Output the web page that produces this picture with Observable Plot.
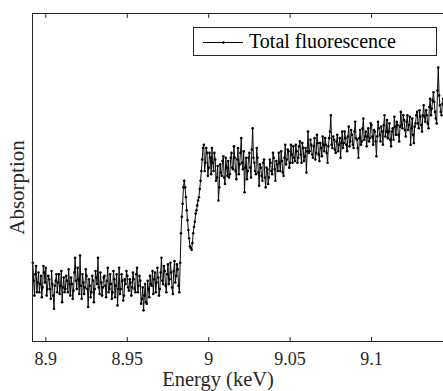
<!DOCTYPE html>
<html><head><meta charset="utf-8">
<script src="https://cdn.jsdelivr.net/npm/d3@7"></script>
<script src="https://cdn.jsdelivr.net/npm/@observablehq/plot@0.6"></script>
<style>
html,body{margin:0;padding:0;background:#fff;overflow:hidden}
#wrap{position:relative;width:443px;height:391px}
#wrap svg text{font-family:'Liberation Serif',serif}
#legend{position:absolute;left:193px;top:27px;width:244px;height:29px;border:1px solid #262626;background:#fff;box-sizing:border-box;font-family:'Liberation Serif',serif;font-size:20px;color:#000}
#legend svg{position:absolute;left:0;top:0}
#legend span{position:absolute;left:55px;top:2px;line-height:22px;white-space:nowrap}
</style></head><body><div id="wrap"><div id="legend"><svg width="60" height="27"><line x1="9" y1="14.5" x2="49" y2="14.5" stroke="#000" stroke-width="1"/><circle cx="29.5" cy="14.5" r="1.3" fill="#000"/></svg><span>Total fluorescence</span></div></div>
<script>
const seriesName = "Total fluorescence";
const xLabel = "Energy (keV)";
const yLabel = "Absorption";
const xTicks = [8.9, 8.95, 9, 9.05, 9.1];
const xTickLabels = ["8.9", "8.95", "9", "9.05", "9.1"];
const xDomain = [8.8918, 9.1442];
const yDomain = [0, 1000];

const energy = [
8.8920,8.8925,8.8930,8.8935,8.8940,8.8945,8.8950,8.8955,8.8960,8.8965,8.8970,8.8975,8.8980,8.8985,8.8990,8.8995,8.9000,8.9005,8.9010,8.9015,
8.9020,8.9025,8.9030,8.9035,8.9040,8.9045,8.9050,8.9055,8.9060,8.9065,8.9070,8.9075,8.9080,8.9085,8.9090,8.9095,8.9100,8.9105,8.9110,8.9115,
8.9120,8.9125,8.9130,8.9135,8.9140,8.9145,8.9150,8.9155,8.9160,8.9165,8.9170,8.9175,8.9180,8.9185,8.9190,8.9195,8.9200,8.9205,8.9210,8.9215,
8.9220,8.9225,8.9230,8.9235,8.9240,8.9245,8.9250,8.9255,8.9260,8.9265,8.9270,8.9275,8.9280,8.9285,8.9290,8.9295,8.9300,8.9305,8.9310,8.9315,
8.9320,8.9325,8.9330,8.9335,8.9340,8.9345,8.9350,8.9355,8.9360,8.9365,8.9370,8.9375,8.9380,8.9385,8.9390,8.9395,8.9400,8.9405,8.9410,8.9415,
8.9420,8.9425,8.9430,8.9435,8.9440,8.9445,8.9450,8.9455,8.9460,8.9465,8.9470,8.9475,8.9480,8.9485,8.9490,8.9495,8.9500,8.9505,8.9510,8.9515,
8.9520,8.9525,8.9530,8.9535,8.9540,8.9545,8.9550,8.9555,8.9560,8.9565,8.9570,8.9575,8.9580,8.9585,8.9590,8.9595,8.9600,8.9605,8.9610,8.9615,
8.9620,8.9625,8.9630,8.9635,8.9640,8.9645,8.9650,8.9655,8.9660,8.9665,8.9670,8.9675,8.9680,8.9685,8.9690,8.9695,8.9700,8.9705,8.9710,8.9715,
8.9720,8.9725,8.9730,8.9735,8.9740,8.9745,8.9750,8.9755,8.9760,8.9765,8.9770,8.9775,8.9780,8.9785,8.9790,8.9795,8.9800,8.9805,8.9810,8.9815,
8.9820,8.9825,8.9830,8.9835,8.9840,8.9845,8.9850,8.9855,8.9860,8.9865,8.9870,8.9875,8.9880,8.9885,8.9890,8.9895,8.9900,8.9905,8.9910,8.9915,
8.9920,8.9925,8.9930,8.9935,8.9940,8.9945,8.9950,8.9955,8.9960,8.9965,8.9970,8.9975,8.9980,8.9985,8.9990,8.9995,9.0000,9.0005,9.0010,9.0015,
9.0020,9.0025,9.0030,9.0035,9.0040,9.0045,9.0050,9.0055,9.0060,9.0065,9.0070,9.0075,9.0080,9.0085,9.0090,9.0095,9.0100,9.0105,9.0110,9.0115,
9.0120,9.0125,9.0130,9.0135,9.0140,9.0145,9.0150,9.0155,9.0160,9.0165,9.0170,9.0175,9.0180,9.0185,9.0190,9.0195,9.0200,9.0205,9.0210,9.0215,
9.0220,9.0225,9.0230,9.0235,9.0240,9.0245,9.0250,9.0255,9.0260,9.0265,9.0270,9.0275,9.0280,9.0285,9.0290,9.0295,9.0300,9.0305,9.0310,9.0315,
9.0320,9.0325,9.0330,9.0335,9.0340,9.0345,9.0350,9.0355,9.0360,9.0365,9.0370,9.0375,9.0380,9.0385,9.0390,9.0395,9.0400,9.0405,9.0410,9.0415,
9.0420,9.0425,9.0430,9.0435,9.0440,9.0445,9.0450,9.0455,9.0460,9.0465,9.0470,9.0475,9.0480,9.0485,9.0490,9.0495,9.0500,9.0505,9.0510,9.0515,
9.0520,9.0525,9.0530,9.0535,9.0540,9.0545,9.0550,9.0555,9.0560,9.0565,9.0570,9.0575,9.0580,9.0585,9.0590,9.0595,9.0600,9.0605,9.0610,9.0615,
9.0620,9.0625,9.0630,9.0635,9.0640,9.0645,9.0650,9.0655,9.0660,9.0665,9.0670,9.0675,9.0680,9.0685,9.0690,9.0695,9.0700,9.0705,9.0710,9.0715,
9.0720,9.0725,9.0730,9.0735,9.0740,9.0745,9.0750,9.0755,9.0760,9.0765,9.0770,9.0775,9.0780,9.0785,9.0790,9.0795,9.0800,9.0805,9.0810,9.0815,
9.0820,9.0825,9.0830,9.0835,9.0840,9.0845,9.0850,9.0855,9.0860,9.0865,9.0870,9.0875,9.0880,9.0885,9.0890,9.0895,9.0900,9.0905,9.0910,9.0915,
9.0920,9.0925,9.0930,9.0935,9.0940,9.0945,9.0950,9.0955,9.0960,9.0965,9.0970,9.0975,9.0980,9.0985,9.0990,9.0995,9.1000,9.1005,9.1010,9.1015,
9.1020,9.1025,9.1030,9.1035,9.1040,9.1045,9.1050,9.1055,9.1060,9.1065,9.1070,9.1075,9.1080,9.1085,9.1090,9.1095,9.1100,9.1105,9.1110,9.1115,
9.1120,9.1125,9.1130,9.1135,9.1140,9.1145,9.1150,9.1155,9.1160,9.1165,9.1170,9.1175,9.1180,9.1185,9.1190,9.1195,9.1200,9.1205,9.1210,9.1215,
9.1220,9.1225,9.1230,9.1235,9.1240,9.1245,9.1250,9.1255,9.1260,9.1265,9.1270,9.1275,9.1280,9.1285,9.1290,9.1295,9.1300,9.1305,9.1310,9.1315,
9.1320,9.1325,9.1330,9.1335,9.1340,9.1345,9.1350,9.1355,9.1360,9.1365,9.1370,9.1375,9.1380,9.1385,9.1390,9.1395,9.1400,9.1405,9.1410,9.1415,
9.1420,9.1425,9.1430,9.1435,9.1440
];

const absorption = [
240,185,140,205,230,150,180,210,150,175,200,135,165,230,210,180,225,140,160,200,
190,160,130,215,175,140,100,170,185,205,150,180,205,145,170,215,120,165,195,150,
160,200,185,150,220,175,140,195,175,130,155,210,255,185,160,225,190,145,262,170,
130,205,180,145,165,220,200,160,105,190,170,135,150,200,185,120,160,215,195,175,
255,165,145,210,180,140,165,195,200,170,135,185,225,150,160,205,175,130,150,215,
190,135,170,205,110,160,225,145,160,205,185,125,140,190,175,215,200,165,155,190,
180,140,165,210,190,160,150,205,225,150,170,200,185,115,130,165,95,140,175,120,
115,185,160,135,200,175,170,215,145,190,210,150,180,225,195,140,160,210,255,185,
175,230,215,170,150,205,235,175,190,240,210,165,145,215,245,180,200,235,220,170,
150,240,330,380,420,470,490,470,440,400,370,340,315,290,285,280,300,330,350,365,
390,400,415,430,440,465,490,520,555,590,600,520,545,590,575,505,530,575,560,510,
590,545,520,575,555,490,500,535,430,470,540,515,505,550,565,500,480,560,530,505,
550,500,510,560,575,530,525,595,560,520,495,555,590,510,540,575,620,545,525,580,
455,530,560,495,520,560,575,530,500,585,650,560,545,520,510,590,560,515,475,540,
530,505,490,545,555,500,470,530,525,480,500,555,545,520,510,575,560,525,490,550,
540,520,575,545,520,580,550,515,505,560,600,540,555,585,580,530,545,600,570,545,
595,560,550,600,580,545,560,595,610,570,545,605,590,550,565,590,515,580,640,575,
580,615,600,570,560,595,620,555,575,630,605,570,550,605,590,565,625,600,580,620,
600,575,545,595,620,640,690,600,590,625,615,585,575,610,630,580,600,620,560,605,
640,590,605,640,620,600,580,625,655,595,610,645,630,600,590,640,670,620,615,590,
560,620,645,600,610,650,680,615,625,640,595,625,650,610,620,665,660,625,600,645,
640,610,565,625,670,650,630,610,655,640,600,660,690,625,640,675,620,640,665,615,
595,640,650,615,685,655,630,670,660,630,610,655,700,660,650,690,675,645,625,670,
690,645,660,685,600,650,680,630,605,655,665,690,700,665,650,705,685,660,640,690,
720,685,670,705,690,665,650,715,740,690,710,735,760,730,700,680,665,765,835,750,
720,700,690,725,740
];

const data = energy.map((e, i) => ({energy: e, absorption: absorption[i], series: seriesName}));
const fmt = d => xTickLabels[xTicks.indexOf(d)] ?? String(d);

const chart = Plot.plot({
  width: 443,
  height: 391,
  marginLeft: 32,
  marginRight: 0,
  marginTop: 13,
  marginBottom: 50,
  style: {fontFamily: "'Liberation Serif', serif", fontSize: "18px", color: "#262626", background: "#fff", overflow: "visible"},
  x: {domain: xDomain},
  y: {domain: yDomain, axis: null},
  marks: [
    Plot.line(data, {x: "energy", y: "absorption", stroke: "#0a0a0a", strokeWidth: 1}),
    Plot.dot(data, {x: "energy", y: "absorption", r: 1.3, fill: "#000", stroke: null}),
    Plot.ruleX([xDomain[0]], {stroke: "#262626", strokeWidth: 1}),
    Plot.ruleY([yDomain[0], yDomain[1]], {stroke: "#262626", strokeWidth: 1}),
    Plot.axisX({anchor: "bottom", ticks: xTicks, tickSize: 0, tickPadding: 11, tickFormat: fmt, label: null, fill: "#262626", fontSize: 18}),
    Plot.axisX({anchor: "bottom", ticks: xTicks, tickSize: 4, dy: -4, tickFormat: () => "", label: null, stroke: "#262626"}),
    Plot.axisX({anchor: "top", ticks: xTicks, tickSize: 4, dy: 4, tickFormat: () => "", label: null, stroke: "#262626"}),
    Plot.text([xLabel], {text: d => d, frameAnchor: "bottom", textAnchor: "middle", dx: -20, dy: 30, lineAnchor: "top", fontSize: 20.5, fill: "#262626"}),
    Plot.text([yLabel], {text: d => d, frameAnchor: "left", textAnchor: "middle", dx: -15, dy: 10, rotate: -90, lineAnchor: "middle", fontSize: 21, fill: "#262626"})
  ]
});
document.getElementById("wrap").prepend(chart);
</script>
</body></html>
